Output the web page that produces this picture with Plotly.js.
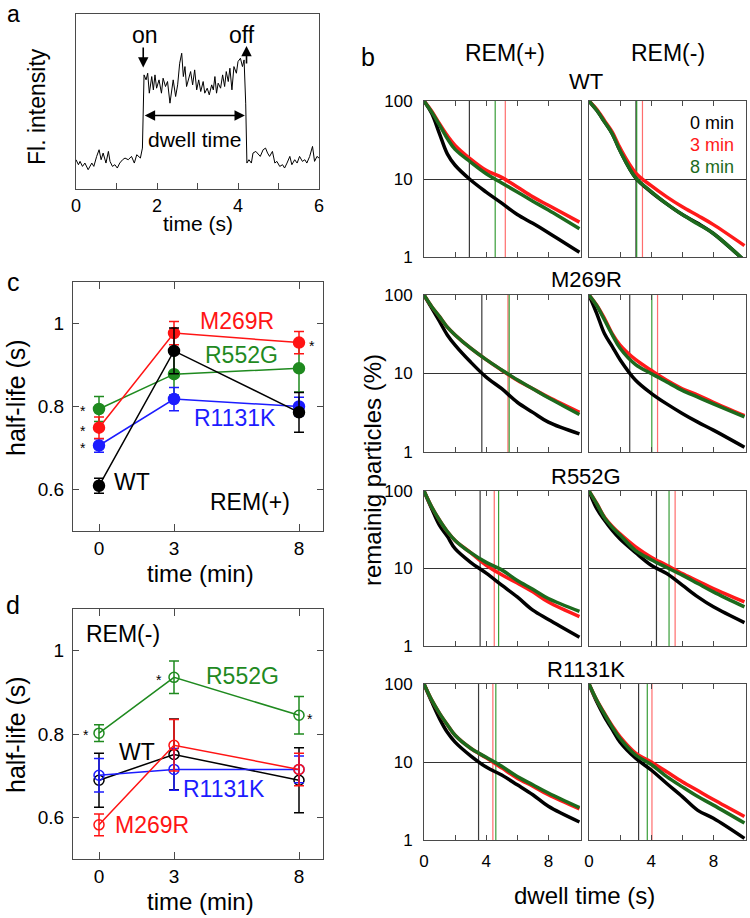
<!DOCTYPE html>
<html><head><meta charset="utf-8">
<script src="https://cdn.plot.ly/plotly-3.0.1.min.js"></script>
<style>body{margin:0;background:#fff}</style>
</head><body><div id="chart" style="width:750px;height:918px"></div>
<script>
// ---------- Panel a: single-molecule trace ----------
const traceTime = [0,0.06,0.10,0.16,0.22,0.30,0.39,0.44,0.51,0.57,0.62,0.67,0.74,0.80,0.84,0.90,0.96,1.02,1.08,1.15,1.21,1.29,1.37,1.44,1.50,1.54,1.59,1.64,1.68,1.73,1.77,1.81,1.87,1.91,1.95,1.99,2.05,2.11,2.15,2.21,2.26,2.32,2.36,2.40,2.46,2.51,2.56,2.61,2.65,2.69,2.73,2.77,2.83,2.88,2.93,2.98,3.03,3.08,3.14,3.18,3.24,3.29,3.35,3.39,3.43,3.47,3.51,3.57,3.62,3.67,3.71,3.76,3.80,3.85,3.90,3.96,4.00,4.06,4.11,4.15,4.19,4.22,4.27,4.33,4.37,4.44,4.50,4.55,4.62,4.68,4.73,4.78,4.85,4.91,4.96,5.03,5.10,5.15,5.21,5.28,5.33,5.40,5.46,5.52,5.59,5.65,5.70,5.77,5.84,5.89,5.95,6.00];
const traceIntensity = [88,73,83,68,78,58,78,68,98,118,88,108,78,113,83,68,73,63,78,88,93,88,98,78,103,98,93,123,343,328,348,288,338,298,343,303,328,288,333,308,323,258,298,328,278,313,378,408,338,368,308,328,353,313,358,298,328,293,323,288,303,283,313,298,338,288,318,303,343,308,353,323,363,298,368,348,383,393,368,388,258,78,88,78,108,113,103,98,118,123,108,98,113,78,83,68,73,63,78,98,73,88,78,98,83,88,78,98,128,83,98,93];
const onTime = 1.66, offTime = 4.19;

// ---------- Panels c, d: half-life vs incubation time ----------
const timesMin = [0, 3, 8];
const plusWT = [0.609, 0.934, 0.786],     plusWTErr = [0.018, 0.055, 0.048];
const plusM269R = [0.749, 0.977, 0.954],  plusM269RErr = [0.026, 0.028, 0.027];
const plusR552G = [0.794, 0.878, 0.892],  plusR552GErr = [0.030, 0.050, 0.057];
const plusR1131K = [0.706, 0.818, 0.800], plusR1131KErr = [0.016, 0.028, 0.022];
const minusWT = [0.689, 0.751, 0.689],     minusWTErr = [0.065, 0.085, 0.078];
const minusM269R = [0.582, 0.773, 0.715],  minusM269RErr = [0.026, 0.062, 0.039];
const minusR552G = [0.802, 0.936, 0.845],  minusR552GErr = [0.020, 0.039, 0.045];
const minusR1131K = [0.701, 0.715, 0.715], minusR1131KErr = [0.040, 0.050, 0.032];

// ---------- Panel b: remaining particles (%) vs dwell time ----------
const dwellT = [0, 0.5, 1, 1.5, 2, 3, 4, 5, 6, 7, 8, 10];
const wtP0 = [100, 69, 38, 21, 15, 9.7, 6.8, 4.9, 3.5, 2.7, 2.05, 1.15];
const wtP3 = [100, 74, 51, 36, 27, 18, 12.9, 10.5, 7.9, 5.9, 4.6, 2.8];
const wtP8 = [100, 72, 49, 33, 24, 16.5, 11.7, 8.9, 6.8, 5.2, 4.0, 2.3];
const wtM0 = [100, 76, 54, 38, 23, 10.3, 6.8, 4.8, 3.5, 2.7, 2.0, 0.9];
const wtM3 = [100, 78, 56, 40, 25, 12, 8.2, 5.9, 4.4, 3.4, 2.6, 1.4];
const wtM8 = [100, 76, 54, 38, 23, 10.4, 6.9, 4.8, 3.5, 2.65, 2.0, 0.9];
const m269P0 = [100, 68, 46, 31, 23, 14, 9.0, 6.4, 4.3, 3.2, 2.4, 1.7];
const m269P3 = [100, 71, 53, 39, 31, 21, 15, 11, 8.2, 6.4, 5.0, 3.2];
const m269P8 = [100, 71, 53, 39, 31, 21, 15, 11.1, 8.3, 6.4, 4.9, 3.0];
const m269M0 = [100, 58, 32, 22, 15, 8.2, 5.6, 4.1, 3.1, 2.4, 1.9, 1.15];
const m269M3 = [100, 74, 50, 32, 23, 15, 11, 8.2, 6.4, 5.3, 4.3, 2.9];
const m269M8 = [100, 73, 48, 31, 21, 13, 10, 7.8, 6.1, 5.0, 4.1, 2.8];
const r552P0 = [100, 59, 36, 26, 18, 12, 8.7, 6.1, 4.3, 2.9, 2.2, 1.3];
const r552P3 = [100, 62, 42, 30, 23, 16, 11, 8.3, 6.5, 5.0, 3.7, 2.4];
const r552P8 = [100, 62, 42, 30, 23, 16, 12, 9.6, 7.0, 5.4, 4.1, 2.8];
const r552M0 = [100, 59, 42, 31, 24, 16, 11, 8.6, 6.1, 4.3, 3.2, 2.0];
const r552M3 = [100, 69, 46, 35, 28, 19, 14, 11, 8.6, 6.9, 5.5, 3.7];
const r552M8 = [100, 68, 45, 34, 27, 17, 13, 10.3, 8.2, 6.4, 5.0, 3.2];
const r1131P0 = [100, 59, 36, 24, 18, 12, 8.6, 6.8, 5.1, 3.8, 2.7, 1.7];
const r1131P3 = [100, 62, 42, 30, 22, 15, 11.3, 8.4, 6.2, 4.9, 3.8, 2.5];
const r1131P8 = [100, 62, 42, 30, 22, 15, 11.5, 8.8, 6.5, 5.1, 4.0, 2.6];
const r1131M0 = [100, 59, 38, 26, 18, 11.2, 7.9, 5.3, 3.6, 2.4, 1.9, 1.05];
const r1131M3 = [100, 62, 42, 29, 21, 13, 10, 7.5, 5.6, 4.3, 3.3, 2.0];
const r1131M8 = [100, 62, 41, 28, 20, 12.3, 9.3, 6.5, 4.8, 3.6, 2.8, 1.65];
// time where each curve reaches 10 % (order: 0, 3, 8 min)
const wtPCross = [2.92, 5.23, 4.58],   wtMCross = [3.02, 3.44, 3.07];
const m269PCross = [3.72, 5.40, 5.48], m269MCross = [2.62, 4.41, 4.04];
const r552PCross = [3.61, 4.52, 4.80], r552MCross = [4.34, 5.54, 5.15];
const r1131PCross = [3.51, 4.43, 4.62], r1131MCross = [3.19, 4.05, 3.75];
const rowTitles = ['WT', 'M269R', 'R552G', 'R1131K'];
const legendLabels = ['0 min', '3 min', '8 min'];

// ---------- layout helpers ----------
const W = 750, H = 918;
const FONT = 'Arial, "Liberation Sans", sans-serif';
const FRAME = '#4a4a4a';
const RED = '#ff1414', GREEN = '#1f8a1f', BLUE = '#1c1cff', BLACK = '#000000';
const DGREEN = '#1d6a1d';
const dxp = (l, r) => [l / W, r / W];
const dyp = (t, b) => [1 - b / H, 1 - t / H];
const px = x => x / W, py = y => 1 - y / H;

const traces = [];
const layout = {
  width: W, height: H, margin: {l: 0, r: 0, t: 0, b: 0},
  paper_bgcolor: '#fff', plot_bgcolor: '#fff', showlegend: false,
  font: {family: FONT, color: '#000'},
  annotations: []
};

// Panel a axes
layout.xaxis = {domain: dxp(76, 319), range: [0, 6], anchor: 'y', showline: true, mirror: true, linecolor: FRAME, linewidth: 1,
  tickvals: [0,1,2,3,4,5,6], ticktext: ['0','','2','','4','','6'], ticks: 'inside', ticklen: 6, tickcolor: FRAME,
  showgrid: false, zeroline: false, tickfont: {size: 18}, ticklabelstandoff: 0};
layout.yaxis = {domain: dyp(14, 189), range: [0, 526], anchor: 'x', showline: true, mirror: true, linecolor: FRAME, linewidth: 1,
  showticklabels: false, ticks: '', showgrid: false, zeroline: false};
traces.push({x: traceTime, y: traceIntensity, mode: 'lines', line: {color: '#000', width: 1}, xaxis: 'x', yaxis: 'y', hoverinfo: 'skip'});

// Panel c / d axes
function hlAxes(n, top, bottom) {
  layout['xaxis' + n] = {domain: dxp(73, 323), range: [-1.04, 8.96], anchor: 'y' + n, showline: true, mirror: 'ticks', linecolor: FRAME,
    tickvals: timesMin, ticks: 'inside', ticklen: 7, tickcolor: FRAME, showgrid: false, zeroline: false, tickfont: {size: 19}, ticklabelstandoff: 0};
  layout['yaxis' + n] = {domain: dyp(top, bottom), range: [0.5, 1.1], anchor: 'x' + n, showline: true, mirror: 'ticks', linecolor: FRAME,
    tickvals: [0.6, 0.8, 1.0], ticktext: ['0.6', '0.8', '1'], ticks: 'inside', ticklen: 6, tickcolor: FRAME, showgrid: false, zeroline: false,
    tickfont: {size: 19}, ticklabelstandoff: 4};
}
hlAxes(2, 282, 531);
hlAxes(3, 609, 859);

function hlTrace(y, err, color, n, open) {
  return {x: timesMin, y: y, mode: 'lines+markers', xaxis: 'x' + n, yaxis: 'y' + n, hoverinfo: 'skip',
    line: {color: color, width: 1.5},
    marker: {color: color, size: open ? 10 : 11, symbol: open ? 'circle-open' : 'circle', line: {color: color, width: 1.5}},
    error_y: {type: 'data', array: err, visible: true, color: color, thickness: 1.5, width: 5}};
}
traces.push(hlTrace(plusR552G, plusR552GErr, GREEN, 2, false));
traces.push(hlTrace(plusR1131K, plusR1131KErr, BLUE, 2, false));
traces.push(hlTrace(plusM269R, plusM269RErr, RED, 2, false));
traces.push(hlTrace(plusWT, plusWTErr, BLACK, 2, false));
traces.push(hlTrace(minusR552G, minusR552GErr, GREEN, 3, true));
traces.push(hlTrace(minusWT, minusWTErr, BLACK, 3, true));
traces.push(hlTrace(minusR1131K, minusR1131KErr, BLUE, 3, true));
traces.push(hlTrace(minusM269R, minusM269RErr, RED, 3, true));

// Panel b axes
const colX = [[424, 581], [589, 746]];
const rowY = [[101, 257], [295, 452], [491, 646], [684, 840]];
const curves = [
  [[wtP0, wtP3, wtP8, wtPCross], [wtM0, wtM3, wtM8, wtMCross]],
  [[m269P0, m269P3, m269P8, m269PCross], [m269M0, m269M3, m269M8, m269MCross]],
  [[r552P0, r552P3, r552P8, r552PCross], [r552M0, r552M3, r552M8, r552MCross]],
  [[r1131P0, r1131P3, r1131P8, r1131PCross], [r1131M0, r1131M3, r1131M8, r1131MCross]]
];
const lineCols = ['#3a3a3a', 'rgba(255,60,60,0.75)', 'rgba(20,140,20,0.85)'];
const curveCols = [BLACK, '#ff1a1a', DGREEN];
let n = 4;
for (let r = 0; r < 4; r++) {
  for (let c = 0; c < 2; c++) {
    const xa = 'x' + n, ya = 'y' + n;
    layout['xaxis' + n] = {domain: dxp(colX[c][0], colX[c][1]), range: [0, 10.1], anchor: ya, showline: true, mirror: 'ticks',
      linecolor: FRAME, tickvals: [0, 2, 4, 6, 8], ticktext: ['0', '', '4', '', '8'], ticks: 'inside', ticklen: 5, tickcolor: FRAME,
      showgrid: false, zeroline: false, showticklabels: r === 3, tickfont: {size: 17}, ticklabelstandoff: 6};
    layout['yaxis' + n] = {domain: dyp(rowY[r][0], rowY[r][1]), type: 'log', range: [0, 2], anchor: xa, showline: true, mirror: true,
      linecolor: FRAME, tickvals: [1, 10, 100], ticktext: ['1', '10', '100'], ticks: '', showgrid: true, gridcolor: '#333', gridwidth: 1,
      zeroline: false, showticklabels: c === 0, tickfont: {size: 17}, ticklabelstandoff: 7};
    const set = curves[r][c];
    for (let k = 0; k < 3; k++) {
      traces.push({x: [set[3][k], set[3][k]], y: [1, 100], mode: 'lines', line: {color: lineCols[k], width: 1.2},
        xaxis: xa, yaxis: ya, hoverinfo: 'skip'});
    }
    for (let k = 0; k < 3; k++) {
      traces.push({x: dwellT, y: set[k], mode: 'lines', line: {color: curveCols[k], width: 3.5, shape: 'spline', smoothing: 1.0},
        xaxis: xa, yaxis: ya, hoverinfo: 'skip'});
    }
    n++;
  }
}

// ---------- annotations ----------
const A = layout.annotations;
function pa(text, x, y, size, opts) {
  A.push(Object.assign({text: text, x: px(x), y: py(y), xref: 'paper', yref: 'paper', showarrow: false,
    font: {size: size, family: FONT, color: '#000'}, xanchor: 'center', yanchor: 'middle'}, opts || {}));
}
function da(text, x, y, n, size, color) {
  A.push({text: text, x: x, y: y, xref: 'x' + n, yref: 'y' + n, showarrow: false,
    font: {size: size, family: FONT, color: color}, xanchor: 'center', yanchor: 'middle'});
}
// panel letters
pa('a', 13, 14, 23); pa('b', 368, 57, 25); pa('c', 13, 282, 25); pa('d', 13, 605, 25);
// panel a text
pa('Fl. intensity', 37, 107, 23, {textangle: -90});
pa('time (s)', 198, 224, 21);
da('on', 1.70, 463, '', 23, '#000');
da('off', 4.11, 463, '', 23, '#000');
da('dwell time', 2.92, 148, '', 21, '#000');
A.push({x: onTime, y: 365, ax: onTime, ay: 430, xref: 'x', yref: 'y', axref: 'x', ayref: 'y', text: '', showarrow: true,
  arrowhead: 2, arrowsize: 1.3, arrowwidth: 1.6, arrowcolor: '#000', standoff: 0, startstandoff: 0});
A.push({x: 4.21, y: 430, ax: 4.21, ay: 373, xref: 'x', yref: 'y', axref: 'x', ayref: 'y', text: '', showarrow: true,
  arrowhead: 2, arrowsize: 1.3, arrowwidth: 1.6, arrowcolor: '#000', standoff: 0, startstandoff: 0});
A.push({x: offTime - 0.02, y: 221, ax: onTime, ay: 221, xref: 'x', yref: 'y', axref: 'x', ayref: 'y', text: '', showarrow: true,
  arrowhead: 2, startarrowhead: 2, arrowside: 'end+start', arrowsize: 1.3, startarrowsize: 1.3, arrowwidth: 1.6, arrowcolor: '#000', standoff: 0, startstandoff: 0});

// panel c text
pa('half-life (s)', 16, 398, 25, {textangle: -90});
pa('time (min)', 200, 573, 24);
da('M269R', 5.52, 1.005, 2, 23, RED);
da('R552G', 5.7, 0.923, 2, 23, GREEN);
da('R1131K', 5.44, 0.773, 2, 23, BLUE);
da('WT', 1.32, 0.617, 2, 23, '#000');
da('REM(+)', 6.04, 0.569, 2, 23, '#000');
da('*', -0.64, 0.789, 2, 14, '#000');
da('*', -0.64, 0.741, 2, 14, '#000');
da('*', -0.64, 0.700, 2, 14, '#000');
da('*', 8.52, 0.946, 2, 14, '#000');
// panel d text
pa('half-life (s)', 16, 735, 25, {textangle: -90});
pa('time (min)', 200, 901, 24);
da('REM(-)', 0.97, 1.041, 3, 23, '#000');
da('R552G', 5.72, 0.940, 3, 23, GREEN);
da('WT', 1.53, 0.757, 3, 23, '#000');
da('R1131K', 5.0, 0.667, 3, 23, BLUE);
da('M269R', 2.12, 0.582, 3, 23, RED);
da('*', -0.52, 0.797, 3, 14, '#000');
da('*', 2.40, 0.929, 3, 14, '#000');
da('*', 8.44, 0.836, 3, 14, '#000');
// panel b text
pa('REM(+)', 505, 53, 23); pa('REM(-)', 668, 53, 23);
const rowTitleY = [82, 279, 476, 669];
rowTitles.forEach((t, i) => pa(t, 586, rowTitleY[i], 22));
const legY = [123, 145, 167], legC = ['#000', '#ff1a1a', DGREEN];
legendLabels.forEach((t, i) => pa(t, 736, legY[i], 18, {xanchor: 'right', font: {size: 18, family: FONT, color: legC[i]}}));
pa('remainig particles (%)', 372, 470, 24, {textangle: -90});
pa('dwell time (s)', 584, 895, 24);

Plotly.newPlot('chart', traces, layout, {displayModeBar: false, staticPlot: true});
</script></body></html>
